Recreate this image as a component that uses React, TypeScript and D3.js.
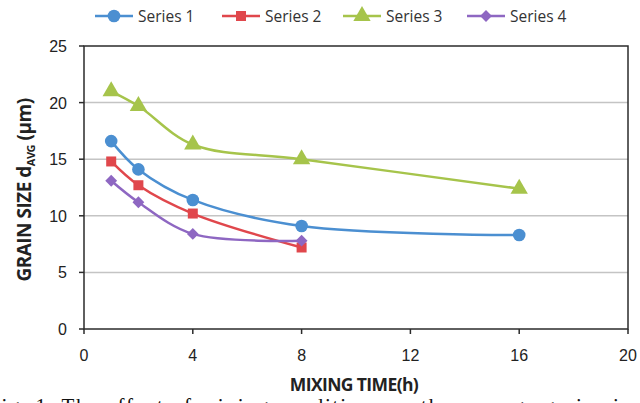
import React from "react";
import * as d3 from "d3";

const xTicks = [0, 4, 8, 12, 16, 20];
const yTicks = [0, 5, 10, 15, 20, 25];

const series1X = [1, 2, 4, 8, 16];
const series1Y = [16.6, 14.1, 11.4, 9.1, 8.3];
const series2X = [1, 2, 4, 8];
const series2Y = [14.8, 12.7, 10.2, 7.2];
const series3X = [1, 2, 4, 8, 16];
const series3Y = [21.0, 19.7, 16.3, 15.0, 12.4];
const series4X = [1, 2, 4, 8];
const series4Y = [13.1, 11.2, 8.4, 7.8];

const seriesNames = ["Series 1", "Series 2", "Series 3", "Series 4"];

const W = 640;
const H = 403;

export default function App() {
  const x = d3.scaleLinear().domain([0, 20]).range([84, 628]);
  const y = d3.scaleLinear().domain([0, 25]).range([329, 46]);

  const series = [
    { name: seriesNames[0], xs: series1X, ys: series1Y, color: "#4B8FD1", shape: "circle" },
    { name: seriesNames[1], xs: series2X, ys: series2Y, color: "#E0474C", shape: "square" },
    { name: seriesNames[2], xs: series3X, ys: series3Y, color: "#A6C44B", shape: "triangle" },
    { name: seriesNames[3], xs: series4X, ys: series4Y, color: "#8E67C2", shape: "diamond" },
  ];

  const line = d3
    .line<[number, number]>()
    .x(d => x(d[0]))
    .y(d => y(d[1]))
    .curve(d3.curveCatmullRom.alpha(0.5));

  const symbolOf = (shape: string) => {
    if (shape === "circle") return d3.symbol().type(d3.symbolCircle).size(125)();
    if (shape === "square") return d3.symbol().type(d3.symbolSquare).size(100)();
    if (shape === "triangle") return d3.symbol().type(d3.symbolTriangle).size(130)();
    return d3.symbol().type(d3.symbolSquare).size(70)();
  };
  const rot = (shape: string) => (shape === "diamond" ? " rotate(45)" : "");

  const legendX = [95, 222, 343, 467];
  const sans = "'Open Sans', 'Liberation Sans', sans-serif";

  return (
    <svg
      width={W}
      height={H}
      style={{ position: "absolute", left: 0, top: 0, background: "#fff" }}
    >
      {/* grid */}
      {yTicks.slice(1, -1).map(t => (
        <line key={t} x1={84} x2={628} y1={y(t)} y2={y(t)} stroke="#c4c4c4" strokeWidth={1.5} />
      ))}
      {/* plot frame */}
      <rect x={84} y={46} width={544} height={283} fill="none" stroke="#2b2b2b" strokeWidth={1.5} />
      {/* ticks */}
      {xTicks.map(t => (
        <g key={"x" + t}>
          <line x1={x(t)} x2={x(t)} y1={329} y2={334} stroke="#2b2b2b" strokeWidth={1.5} />
          <text
            x={x(t)}
            y={361}
            textAnchor="middle"
            fontFamily="'Liberation Sans', Arial, sans-serif"
            fontSize={16}
            fill="#222"
          >
            {t}
          </text>
        </g>
      ))}
      {yTicks.map(t => (
        <g key={"y" + t}>
          <line x1={79} x2={84} y1={y(t)} y2={y(t)} stroke="#2b2b2b" strokeWidth={1.5} />
          <text
            x={67}
            y={y(t) + 6}
            textAnchor="end"
            fontFamily="'Liberation Sans', Arial, sans-serif"
            fontSize={16}
            fill="#222"
          >
            {t}
          </text>
        </g>
      ))}
      {/* axis titles */}
      <text
        x={354}
        y={391}
        textAnchor="middle"
        fontFamily={sans}
        fontWeight="bold"
        fontSize={17.5}
        fill="#222"
        letterSpacing={-0.6}
      >
        MIXING TIME(h)
      </text>
      <text
        transform={`translate(31, 190) rotate(-90)`}
        textAnchor="middle"
        fontFamily={sans}
        fontWeight="bold"
        fontSize={19}
        fill="#222"
        letterSpacing={-0.5}
      >
        GRAIN SIZE d<tspan fontSize={11} dy={4}>AVG</tspan>
        <tspan dy={-4}> (µm)</tspan>
      </text>
      {/* series */}
      {series.map(s => {
        const pts = s.xs.map((v, i) => [v, s.ys[i]] as [number, number]);
        return (
          <g key={s.name}>
            <path d={line(pts) || ""} fill="none" stroke={s.color} strokeWidth={2.5} />
            {pts.map((p, i) => (
              <path
                key={i}
                d={symbolOf(s.shape) || ""}
                transform={`translate(${x(p[0])},${y(p[1])})${rot(s.shape)}`}
                fill={s.color}
              />
            ))}
          </g>
        );
      })}
      {/* legend */}
      {series.map((s, i) => (
        <g key={"lg" + i} transform={`translate(${legendX[i]}, 16)`}>
          <line x1={0} x2={38} y1={0} y2={0} stroke={s.color} strokeWidth={2.5} />
          <path d={symbolOf(s.shape) || ""} transform={`translate(19,0)${rot(s.shape)}`} fill={s.color} />
          <text x={43} y={5.5} fontFamily={sans} fontSize={15.5} fill="#333">
            {s.name}
          </text>
        </g>
      ))}
      {/* caption cut off at the bottom */}
      <text
        x={-12}
        y={413}
        fontFamily="'Liberation Serif', 'DejaVu Serif', serif"
        fontSize={21}
        fill="#111"
        textLength={680}
      >
        Fig. 1. The effect of mixing conditions on the average grain size in
      </text>
    </svg>
  );
}
